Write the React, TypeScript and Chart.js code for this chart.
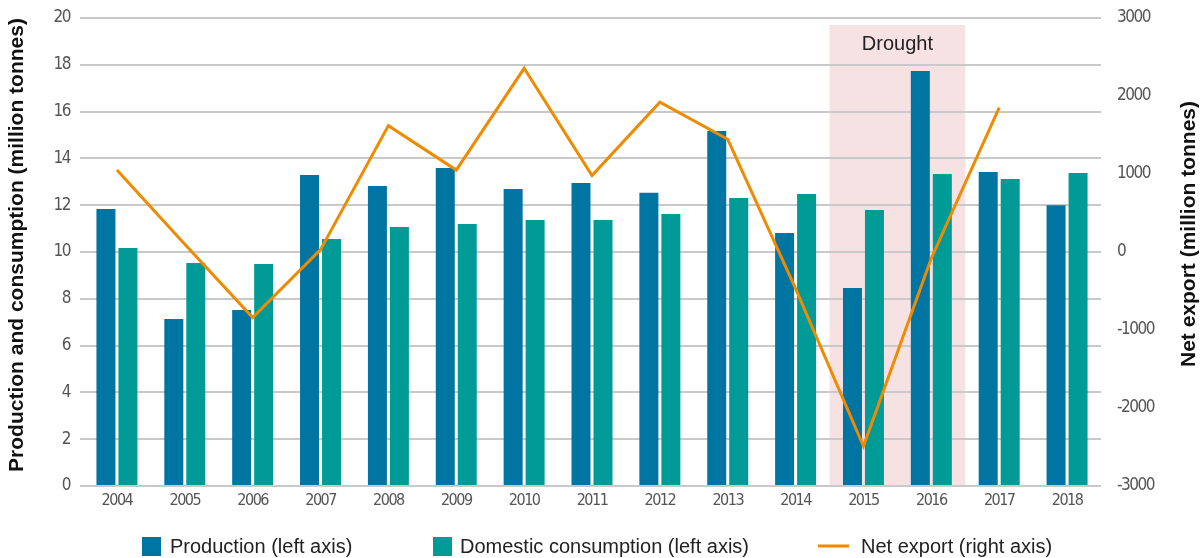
import { useEffect, useRef } from 'react';
import { Chart, registerables } from 'chart.js';

Chart.register(...registerables);

const years = ['2004', '2005', '2006', '2007', '2008', '2009', '2010', '2011', '2012', '2013', '2014', '2015', '2016', '2017', '2018'];
const production = [11.84, 7.14, 7.52, 13.29, 12.82, 13.59, 12.69, 12.95, 12.53, 15.17, 10.81, 8.46, 17.74, 13.42, 12.0];
const consumption = [10.17, 9.53, 9.49, 10.56, 11.07, 11.2, 11.37, 11.37, 11.62, 12.31, 12.48, 11.79, 13.33, 13.12, 13.38];
const netExport = [1050, 100, -840, 30, 1620, 1050, 2355, 980, 1920, 1445, -470, -2490, -80, 1850, null];

const droughtYears = ['2015', '2016'];
const droughtTop = 19.7;
const droughtLabel = 'Drought';

const leftTitle = 'Production and consumption (million tonnes)';
const rightTitle = 'Net export (million tonnes)';
const legendLabels = ['Production (left axis)', 'Domestic consumption (left axis)', 'Net export (right axis)'];

const BLUE = '#0075a2';
const TEAL = '#009b96';
const ORANGE = '#f08a00';
const PINK = '#f6e1e3';
const GRID = '#c9c9c9';
const TICK_COLOR = '#555555';
const NARROW = "'Liberation Sans Narrow', 'DejaVu Sans Condensed', 'Roboto', sans-serif";
const SANS = "'Liberation Sans', Arial, sans-serif";

export default function App() {
  const ref = useRef<HTMLCanvasElement>(null);

  useEffect(() => {
    document.body.style.margin = '0';
    const canvas = ref.current;
    if (!canvas) return;

    const overlay = {
      id: 'overlay',
      beforeDraw(chart: any) {
        const ctx = chart.ctx;
        const x = chart.scales.x;
        const y = chart.scales.y;
        const i0 = years.indexOf(droughtYears[0]);
        const i1 = years.indexOf(droughtYears[droughtYears.length - 1]);
        const cw = (x.getPixelForValue(1) - x.getPixelForValue(0));
        const left = x.getPixelForValue(i0) - cw / 2;
        const right = x.getPixelForValue(i1) + cw / 2;
        const top = y.getPixelForValue(droughtTop);
        const bottom = y.getPixelForValue(0);
        ctx.save();
        ctx.fillStyle = PINK;
        ctx.fillRect(left, top, right - left, bottom - top);
        ctx.fillStyle = '#222222';
        ctx.font = `20px ${SANS}`;
        ctx.textAlign = 'center';
        ctx.textBaseline = 'middle';
        ctx.fillText(droughtLabel, (left + right) / 2, top + 19);
        ctx.restore();
        // condensed look for the axis tick labels
        try { (ctx as any).letterSpacing = '-1.5px'; } catch (e) { /* ignore */ }
      },
      beforeDatasetsDraw(chart: any) {
        try { (chart.ctx as any).letterSpacing = '0px'; } catch (e) { /* ignore */ }
      },
      afterDraw(chart: any) {
        const ctx = chart.ctx;
        ctx.save();
        try { (ctx as any).letterSpacing = '0px'; } catch (e) { /* ignore */ }
        // axis titles
        ctx.fillStyle = '#111111';
        ctx.font = `bold 21px ${SANS}`;
        ctx.textAlign = 'center';
        ctx.textBaseline = 'middle';
        ctx.save();
        ctx.translate(17, 245);
        ctx.rotate(-Math.PI / 2);
        ctx.fillText(leftTitle, 0, 0);
        ctx.restore();
        ctx.save();
        ctx.translate(1189, 234);
        ctx.rotate(-Math.PI / 2);
        ctx.fillText(rightTitle, 0, 0);
        ctx.restore();

        // legend
        const ly = 547;
        ctx.font = `20px ${SANS}`;
        ctx.textAlign = 'left';
        ctx.textBaseline = 'middle';
        ctx.fillStyle = BLUE;
        ctx.fillRect(142, ly - 10, 19, 19);
        ctx.fillStyle = '#222222';
        ctx.fillText(legendLabels[0], 170, ly);
        ctx.fillStyle = TEAL;
        ctx.fillRect(433, ly - 10, 19, 19);
        ctx.fillStyle = '#222222';
        ctx.fillText(legendLabels[1], 460, ly);
        ctx.strokeStyle = ORANGE;
        ctx.lineWidth = 3;
        ctx.beginPath();
        ctx.moveTo(818, ly - 1);
        ctx.lineTo(849, ly - 1);
        ctx.stroke();
        ctx.fillStyle = '#222222';
        ctx.fillText(legendLabels[2], 861, ly);
        ctx.restore();
      },
    };

    const chart = new Chart(canvas, {
      type: 'bar',
      data: {
        labels: years,
        datasets: [
          {
            type: 'line',
            label: legendLabels[2],
            data: netExport as any,
            yAxisID: 'y1',
            borderColor: ORANGE,
            backgroundColor: ORANGE,
            borderWidth: 3,
            pointRadius: 0,
            tension: 0,
            order: 0,
          } as any,
          {
            label: legendLabels[0],
            data: production,
            backgroundColor: BLUE,
            yAxisID: 'y',
            categoryPercentage: 0.648,
            barPercentage: 0.864,
            order: 1,
          },
          {
            label: legendLabels[1],
            data: consumption,
            backgroundColor: TEAL,
            yAxisID: 'y',
            categoryPercentage: 0.648,
            barPercentage: 0.864,
            order: 2,
          },
        ],
      },
      options: {
        responsive: false,
        animation: false,
        layout: { padding: { top: 18, left: 0, right: 0, bottom: 0 } },
        plugins: {
          legend: { display: false },
          tooltip: { enabled: false },
        },
        scales: {
          x: {
            grid: { display: false, drawTicks: false },
            border: { display: false },
            ticks: { font: { family: NARROW, size: 16 }, color: TICK_COLOR, padding: 5 },
            afterFit(s: any) { s.height = 72; },
          },
          y: {
            position: 'left',
            min: 0,
            max: 20,
            ticks: { stepSize: 2, font: { family: NARROW, size: 17 }, color: TICK_COLOR, padding: 10 },
            grid: { color: GRID, lineWidth: 2, drawTicks: true, tickLength: 3 },
            border: { display: false },
            afterFit(s: any) { s.width = 83; s.paddingTop = 0; s.paddingBottom = 0; },
          },
          y1: {
            position: 'right',
            min: -3000,
            max: 3000,
            ticks: {
              stepSize: 1000,
              font: { family: NARROW, size: 17 },
              color: TICK_COLOR,
              padding: 16,
              callback: (v: any) => String(v),
            },
            grid: { display: false, drawTicks: false },
            border: { display: false },
            afterFit(s: any) { s.width = 100; s.paddingTop = 0; s.paddingBottom = 0; },
          },
        },
      },
      plugins: [overlay],
    } as any);

    return () => chart.destroy();
  }, []);

  return (
    <div style={{ width: 1201, height: 558 }}>
      <canvas ref={ref} width={1201} height={558} style={{ display: 'block' }} />
    </div>
  );
}
